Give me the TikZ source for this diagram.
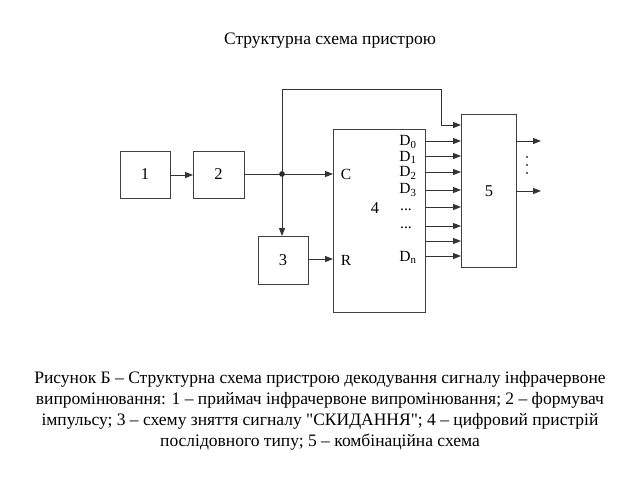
\documentclass[tikz,border=0pt]{standalone}
\usepackage{fontspec}
\setmainfont{Liberation Serif}
\newfontfamily\qfont{Liberation Serif}[Ligatures=TeXOff]
\usetikzlibrary{arrows.meta}
\begin{document}
\begin{tikzpicture}[x=1pt,y=-1pt,
  wire/.style={line width=1pt,draw=black!80},
  arr/.style={wire,-{Triangle[length=8pt,width=6pt]}},
  blk/.style={line width=1pt,draw=black!75},
  lbl/.style={font=\fontsize{16.5}{18}\selectfont,inner sep=0pt},
  dlbl/.style={font=\fontsize{15.5}{17}\selectfont,inner sep=0pt}]
\useasboundingbox (0,0) rectangle (640,480);
\node[font=\fontsize{17.5}{20}\selectfont] (title) at (330,41) {Структурна схема пристрою};
% blocks
\draw[blk] (120,151) rectangle (170,198);
\node[lbl] (b1) at (145,174.5) {1};
\draw[blk] (193,151) rectangle (244,198);
\node[lbl] (b2) at (218.5,174.5) {2};
\draw[blk] (258,236) rectangle (308,284);
\node[lbl] (b3) at (283,260) {3};
\draw[blk] (333,129) rectangle (425,312);
\node[lbl] (b4) at (375,208) {4};
\draw[blk] (461,114) rectangle (516,267);
\node[lbl] (b5) at (489,191) {5};
% coordinates
\coordinate (o1) at (170,175);
\coordinate (i2) at (193,175);
\coordinate (o2) at (244,174);
\coordinate (j) at (282,174);
\coordinate (cin) at (333,174);
\coordinate (t1) at (282,89);
\coordinate (t2) at (441,89);
\coordinate (t3) at (441,125);
\coordinate (i5t) at (461,125);
\coordinate (i3) at (282,236);
\coordinate (o3) at (308,259);
\coordinate (rin) at (333,259);
% pins of 4
\node[dlbl] (C) at (346,174) {C};
\node[dlbl] (R) at (346,260) {R};
\node[dlbl] (d0) at (408,142) {D\textsubscript{0}};
\node[dlbl] (d1) at (408,157.5) {D\textsubscript{1}};
\node[dlbl] (d2) at (408,173) {D\textsubscript{2}};
\node[dlbl] (d3) at (408,190) {D\textsubscript{3}};
\node[dlbl] (e1) at (406,210) {...};
\node[dlbl] (e2) at (406,228) {...};
\node[dlbl] (dn) at (408,257) {D\textsubscript{n}};
% connections
\draw[arr] (o1) -- (i2);
\draw[arr] (o2) -- (cin);
\fill[black!85] (j) circle (2.8pt);
\draw[arr] (j) -- (t1) -- (t2) -- (t3) -- (i5t);
\draw[arr] (j) -- (i3);
\draw[arr] (o3) -- (rin);
\foreach \yy in {141,156,172,190,207,226,241,256}{
  \draw[arr] (425,\yy) -- (461,\yy);
}
\coordinate (q1) at (516,141);
\coordinate (q1e) at (541,141);
\coordinate (q2) at (516,191);
\coordinate (q2e) at (541,191);
\draw[arr] (q1) -- (q1e);
\draw[arr] (q2) -- (q2e);
\foreach \yy in {157,165,173}{
  \fill[black!80] (527,\yy) circle (1.2pt);
}
% caption
\node[font=\fontsize{17.5}{21}\selectfont,align=center,inner sep=0pt] (cap) at (320,411) {Рисунок Б – Структурна схема пристрою декодування сигналу інфрачервоне\\
випромінювання: 1 – приймач інфрачервоне випромінювання; 2 – формувач\\
імпульсу; 3 – схему зняття сигналу {\qfont"}СКИДАННЯ{\qfont"}; 4 – цифровий пристрій\\
послідовного типу; 5 – комбінаційна схема};
\end{tikzpicture}
\end{document}
